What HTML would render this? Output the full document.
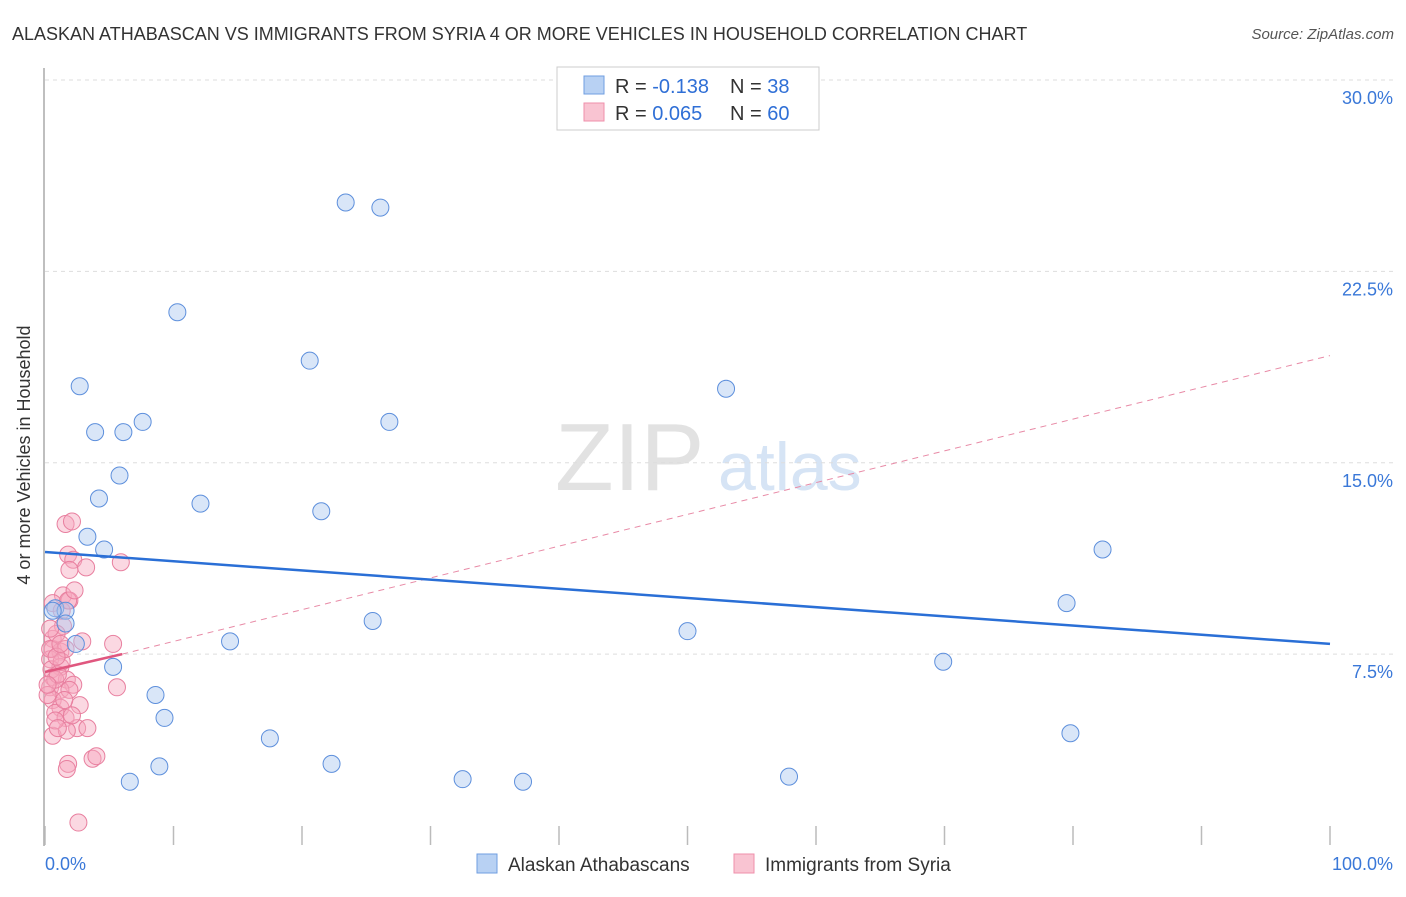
<!DOCTYPE html>
<html><head><meta charset="utf-8"><style>
body{margin:0;background:#fff;font-family:"Liberation Sans",sans-serif;}
svg text{font-family:"Liberation Sans",sans-serif;}
</style></head><body>
<svg id="c" width="1406" height="892">
<text x="12" y="40" font-size="18" fill="#333">ALASKAN ATHABASCAN VS IMMIGRANTS FROM SYRIA 4 OR MORE VEHICLES IN HOUSEHOLD CORRELATION CHART</text>
<text x="1394" y="39" font-size="15" fill="#555" font-style="italic" text-anchor="end">Source: ZipAtlas.com</text>
<text x="30" y="455" font-size="18" fill="#333" text-anchor="middle" transform="rotate(-90 30 455)">4 or more Vehicles in Household</text>
<text x="555" y="490" font-size="96" fill="#e2e2e2" font-family="Liberation Serif">ZIP</text>
<text x="718" y="490" font-size="68" fill="#d6e4f5">atlas</text>
<g id="grid"></g><g id="marks"></g>
<g>
<rect x="557" y="67" width="262" height="63" fill="#fff" stroke="#ccc"/>
<rect x="584" y="76" width="20" height="18" fill="#b8d1f3" stroke="#6f9ee0"/>
<rect x="584" y="103" width="20" height="18" fill="#f9c4d2" stroke="#ef8fab"/>
<text x="615" y="93" font-size="20" fill="#333">R = <tspan fill="#2f6fd6">-0.138</tspan><tspan x="730">N = </tspan><tspan fill="#2f6fd6">38</tspan></text>
<text x="615" y="120" font-size="20" fill="#333">R = <tspan fill="#2f6fd6"> 0.065</tspan><tspan x="730">N = </tspan><tspan fill="#2f6fd6">60</tspan></text>
</g>
<g>
<rect x="477" y="854" width="20" height="19" fill="#b8d1f3" stroke="#6f9ee0"/>
<text x="508" y="871" font-size="19" fill="#333">Alaskan Athabascans</text>
<rect x="734" y="854" width="20" height="19" fill="#f9c4d2" stroke="#ef8fab"/>
<text x="765" y="871" font-size="19" fill="#333">Immigrants from Syria</text>
</g>
<text x="45" y="870" font-size="18" fill="#3a78d8">0.0%</text>
<text x="1393" y="870" font-size="18" fill="#3a78d8" text-anchor="end">100.0%</text>
</svg>
<script>
const yTicks=[7.5,15,22.5,30];
const yTickLabels=["7.5%","15.0%","22.5%","30.0%"];
const xTicks=[0,10,20,30,40,50,60,70,80,90,100];
const blueX=[23.4,26.1,10.3,20.6,2.7,53.0,7.6,3.9,6.1,26.8,5.8,4.2,12.1,21.5,3.3,4.6,82.3,0.8,1.6,79.5,1.6,25.5,2.4,50.0,14.4,5.3,69.9,8.6,9.3,17.5,79.8,22.3,8.9,6.6,32.5,37.2,57.9,0.6];
const blueY=[25.2,25.0,20.9,19.0,18.0,17.9,16.6,16.2,16.2,16.6,14.5,13.6,13.4,13.1,12.1,11.6,11.6,9.3,9.2,9.5,8.7,8.8,7.9,8.4,8.0,7.0,7.2,5.9,5.0,4.2,4.4,3.2,3.1,2.5,2.6,2.5,2.7,9.2];
const pinkX=[1.6,2.1,1.8,2.2,1.9,3.2,5.9,1.4,1.9,0.6,1.4,0.6,2.9,5.3,0.6,1.2,0.4,1.2,0.6,1.7,2.2,0.4,1.2,5.6,0.6,2.7,1.2,0.8,1.6,2.5,3.3,0.6,1.7,0.8,1.8,1.7,3.7,4.0,2.6,0.4,0.5,0.8,0.2,1.0,1.3,1.6,0.9,0.4,1.9,1.5,1.0,2.1,0.2,0.9,1.3,1.8,2.3,1.2];
const pinkY=[12.6,12.7,11.4,11.2,10.8,10.9,11.1,9.8,9.6,9.5,8.6,8.1,8.0,7.9,7.7,7.6,7.3,7.0,6.6,6.5,6.3,6.2,6.1,6.2,5.7,5.5,5.4,5.2,5.0,4.6,4.6,4.3,4.5,4.9,3.2,3.0,3.4,3.5,0.9,7.7,6.9,6.5,5.9,6.7,7.2,7.7,8.3,8.5,6.1,5.7,4.6,5.1,6.3,7.4,9.2,9.6,10.0,7.9];
const blueTrend=[[0,11.5],[100,7.9]];
const pinkTrend=[[0,6.8],[6,7.5]];
const pinkTrendExt=[[6,7.5],[100,19.2]];
const X0=45,X1=1330,Y0=845.5,Y30=80;
const sx=v=>X0+(X1-X0)*v/100;
const sy=v=>Y0-(Y0-Y30)*v/30;
const NS="http://www.w3.org/2000/svg";
function mk(t,a,p){const e=document.createElementNS(NS,t);for(const k in a)e.setAttribute(k,a[k]);p.appendChild(e);return e;}
const grid=document.getElementById('grid'),marks=document.getElementById('marks');
const ax=mk('line',{x1:44,y1:68,x2:44,y2:846,stroke:'#aaa','stroke-width':1.5},grid);


yTicks.forEach((v,i)=>{
 const g=mk('line',{x1:45,x2:1393,y1:sy(v),y2:sy(v),stroke:'#ddd','stroke-dasharray':'4 4'},grid);
 
 
 const t=mk('text',{x:1393,y:sy(v)+24,'font-size':18,fill:'#3a78d8','text-anchor':'end'},grid);
 t.textContent=yTickLabels[i];
 
 
});
xTicks.forEach(v=>{
 const l=mk('line',{x1:sx(v),x2:sx(v),y1:826,y2:845,stroke:'#bbb','stroke-width':1.5},grid);
 
 
});
function dots(xs,ys,fill,stroke,name){xs.forEach((x,i)=>{
 const c=mk('circle',{cx:sx(x),cy:sy(ys[i]),r:8.5,fill:fill,stroke:stroke,'stroke-width':1,'fill-opacity':0.45},marks);
 
 
});}
dots(pinkX,pinkY,'#f6a9bf','#e87f9f','point-syria');
dots(blueX,blueY,'#aac8f0','#5d8fdc','point-alaskan');
function line(p,st,w,dash,name){
 const l=mk('line',{x1:sx(p[0][0]),y1:sy(p[0][1]),x2:sx(p[1][0]),y2:sy(p[1][1]),stroke:st,'stroke-width':w},marks);
 if(dash)l.setAttribute('stroke-dasharray',dash);
 
 
}
line(pinkTrendExt,'#e88aa6',1,'6 5','trend-syria-extended');
line(blueTrend,'#2a6fd6',2.5,null,'trend-alaskan');
line(pinkTrend,'#e0577f',2.5,null,'trend-syria');
</script>
</body></html>
